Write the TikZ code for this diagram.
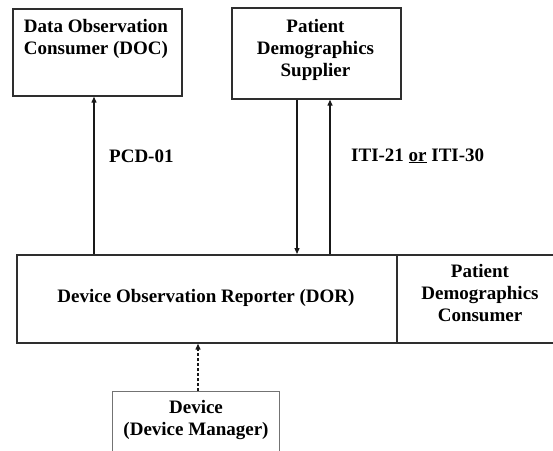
\documentclass[tikz,border=0pt]{standalone}
\usepackage{fontspec}
\setmainfont{Liberation Serif}
\usetikzlibrary{arrows.meta}
\tikzset{
  box/.style={draw=black!82, line width=1.7pt, inner sep=0pt, anchor=north west},
  softbox/.style={draw=black!55, line width=1.2pt, inner sep=0pt, anchor=north west},
  lbl/.style={inner sep=0pt, align=center, text=black,
    font=\fontsize{19}{22}\selectfont\bfseries},
  arr/.style={draw=black!90, line width=1.3pt,
    -{Triangle[length=6pt,width=5pt]}},
  dasharr/.style={arr, dash pattern=on 3pt off 2pt},
}
\begin{document}
\begin{tikzpicture}[x=1pt,y=-1pt]
\useasboundingbox[fill=white] (0,0) rectangle (553,450);

% actor boxes
\node[box, minimum width=169pt, minimum height=87pt] (doc) at (12,8) {};
\node[box, minimum width=169pt, minimum height=91pt] (pds) at (231,7) {};
\node[box, minimum width=380pt, minimum height=88pt] (dor) at (16,254) {};
\node[box, minimum width=180pt, minimum height=88pt] (pdc) at (396,254) {};
\node[softbox, minimum width=167pt, minimum height=80pt] (dev) at (112,391) {};

% box captions
\node[lbl, anchor=north] (doct) at (96,19) {Data Observation\\Consumer (DOC)};
\node[lbl, anchor=north] (pdst) at (315.5,19) {Patient\\Demographics\\Supplier};
\node[lbl, anchor=base] (dort) at (206,302) {Device Observation Reporter (DOR)};
\node[lbl, anchor=north] (pdct) at (480,264) {Patient\\Demographics\\Consumer};
\node[lbl, anchor=north] (devt) at (196,400) {Device\\(Device Manager)};

% transaction labels
\node[lbl, anchor=base west] (pcd) at (109,162) {PCD-01};
\node[lbl, anchor=base west] (iti) at (351,161) {ITI-21 \underline{or} ITI-30};

% connector columns
\coordinate (xa) at (94,0);
\coordinate (xb) at (297,0);
\coordinate (xc) at (330,0);
\coordinate (xd) at (198,0);

% connectors
\draw[arr] (dor.north -| xa) -- (doc.south -| xa);
\draw[arr] (pds.south -| xb) -- (dor.north -| xb);
\draw[arr] (dor.north -| xc) -- (pds.south -| xc);
\draw[dasharr] (dev.north -| xd) -- (dor.south -| xd);
\end{tikzpicture}
\end{document}
